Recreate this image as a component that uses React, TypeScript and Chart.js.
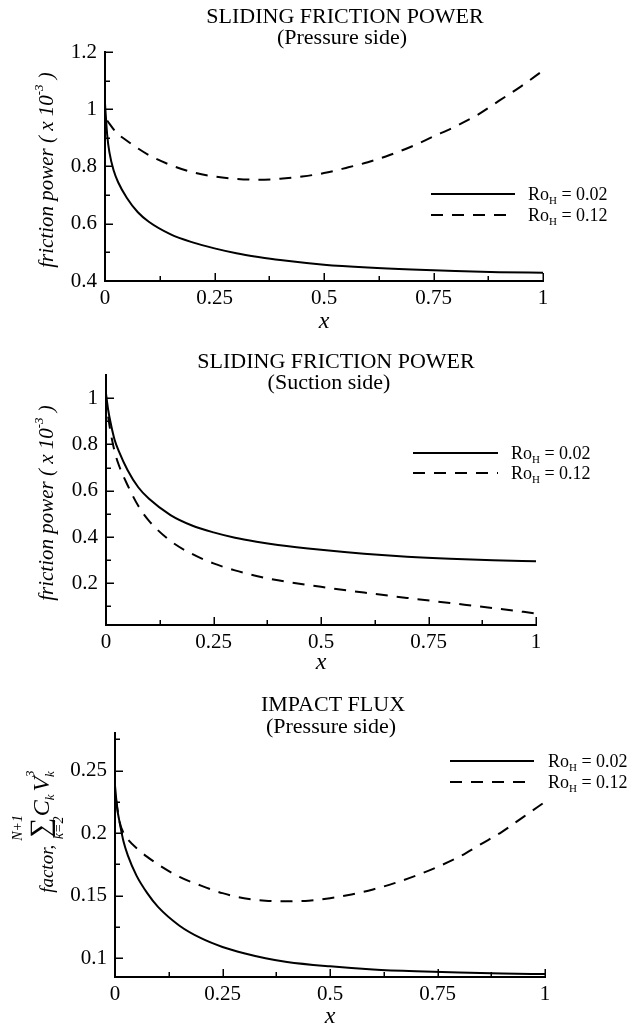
import React, { useEffect, useRef } from "react";
import { Chart, registerables } from "chart.js";
Chart.register(...registerables);

const SERIF = "'Liberation Serif', 'Times New Roman', serif";

// ---------- shared axis data ----------
const X_TICKS = [0, 0.25, 0.5, 0.75, 1];
const X_TICK_LABELS = ["0", "0.25", "0.5", "0.75", "1"];
const X_MINOR_TICKS = [0.125, 0.375, 0.625, 0.875];
const X_AXIS_TITLE = "x";
const SERIES_RO = ["0.02", "0.12"];
const SERIES_DASH = [[], [12, 9]];

// ---------- panel 1: sliding friction power, pressure side ----------
const P1_TITLE = "SLIDING FRICTION POWER";
const P1_SUBTITLE = "(Pressure side)";
const P1_Y_TICKS = [0.4, 0.6, 0.8, 1, 1.2];
const P1_Y_TICK_LABELS = ["0.4", "0.6", "0.8", "1", "1.2"];
const P1_Y_MINOR = [0.5, 0.7, 0.9, 1.1];
const P1_SOLID_X = [0, 0.005, 0.01, 0.02, 0.03, 0.05, 0.075, 0.1, 0.15, 0.2, 0.25, 0.3, 0.35, 0.4, 0.5, 0.6, 0.7, 0.8, 0.9, 1];
const P1_SOLID_Y = [1.02, 0.91, 0.85, 0.785, 0.745, 0.69, 0.64, 0.607, 0.563, 0.535, 0.514, 0.497, 0.484, 0.473, 0.457, 0.447, 0.44, 0.435, 0.431, 0.429];
const P1_DASHED_X = [0.005, 0.025, 0.05, 0.1, 0.15, 0.2, 0.25, 0.3, 0.35, 0.4, 0.45, 0.5, 0.55, 0.6, 0.65, 0.7, 0.75, 0.8, 0.85, 0.9, 0.95, 1];
const P1_DASHED_Y = [0.96, 0.92, 0.89, 0.84, 0.805, 0.78, 0.765, 0.757, 0.754, 0.757, 0.765, 0.777, 0.795, 0.815, 0.84, 0.87, 0.905, 0.94, 0.98, 1.03, 1.08, 1.135];

// ---------- panel 2: sliding friction power, suction side ----------
const P2_TITLE = "SLIDING FRICTION POWER";
const P2_SUBTITLE = "(Suction side)";
const P2_Y_TICKS = [0.2, 0.4, 0.6, 0.8, 1];
const P2_Y_TICK_LABELS = ["0.2", "0.4", "0.6", "0.8", "1"];
const P2_Y_MINOR = [0.1, 0.3, 0.5, 0.7, 0.9];
const P2_SOLID_X = [0, 0.005, 0.01, 0.02, 0.03, 0.05, 0.075, 0.1, 0.15, 0.2, 0.25, 0.3, 0.35, 0.4, 0.5, 0.6, 0.7, 0.8, 0.9, 1];
const P2_SOLID_Y = [1.02, 0.95, 0.9, 0.82, 0.77, 0.69, 0.615, 0.565, 0.495, 0.45, 0.42, 0.397, 0.38, 0.366, 0.345, 0.328, 0.315, 0.306, 0.3, 0.295];
const P2_DASHED_X = [0.005, 0.01, 0.02, 0.03, 0.05, 0.075, 0.1, 0.15, 0.2, 0.25, 0.3, 0.35, 0.4, 0.5, 0.6, 0.7, 0.8, 0.9, 1];
const P2_DASHED_Y = [0.92, 0.86, 0.77, 0.71, 0.625, 0.535, 0.47, 0.383, 0.327, 0.286, 0.256, 0.232, 0.213, 0.185, 0.16, 0.137, 0.115, 0.093, 0.07];

// ---------- panel 3: impact flux, pressure side ----------
const P3_TITLE = "IMPACT FLUX";
const P3_SUBTITLE = "(Pressure side)";
const P3_Y_TICKS = [0.1, 0.15, 0.2, 0.25];
const P3_Y_TICK_LABELS = ["0.1", "0.15", "0.2", "0.25"];
const P3_Y_MINOR = [0.125, 0.175, 0.225, 0.275];
const P3_SOLID_X = [0, 0.005, 0.01, 0.02, 0.03, 0.05, 0.075, 0.1, 0.15, 0.2, 0.25, 0.3, 0.35, 0.4, 0.5, 0.6, 0.7, 0.8, 0.9, 1];
const P3_SOLID_Y = [0.238, 0.22, 0.21, 0.193, 0.182, 0.166, 0.152, 0.141, 0.126, 0.116, 0.109, 0.104, 0.1, 0.097, 0.0935, 0.091, 0.0895, 0.0885, 0.0878, 0.0873];
const P3_DASHED_X = [0.003, 0.01, 0.02, 0.03, 0.05, 0.075, 0.1, 0.15, 0.2, 0.25, 0.3, 0.35, 0.4, 0.45, 0.5, 0.55, 0.6, 0.65, 0.7, 0.75, 0.8, 0.85, 0.9, 0.95, 1];
const P3_DASHED_Y = [0.226, 0.21, 0.2, 0.195, 0.188, 0.181, 0.175, 0.165, 0.158, 0.152, 0.148, 0.146, 0.1455, 0.146, 0.148, 0.151, 0.155, 0.16, 0.166, 0.173, 0.181, 0.191, 0.201, 0.213, 0.225];

// ---------- rich text helpers ----------
type Seg = { t: string; font: string; dy?: number; noAdvance?: boolean; over?: Seg; under?: Seg };

const it = (px: number) => `italic ${px}px ${SERIF}`;
const rm = (px: number) => `${px}px ${SERIF}`;

const FRICTION_LABEL: Seg[] = [
  { t: "friction power ( x 10", font: it(21) },
  { t: "-3", font: it(13), dy: -10 },
  { t: " )", font: it(21) },
];

const IMPACT_LABEL: Seg[] = [
  { t: "factor,", font: it(19) },
  { t: "  ", font: it(14) },
  { t: "\u2211", font: rm(28), dy: -4, over: { t: "N+1", font: it(14), dy: -31 }, under: { t: "k=2", font: it(14), dy: 10 } },
  { t: " ", font: it(6) },
  { t: "C", font: it(24), dy: -4 },
  { t: "k", font: it(13), dy: 1 },
  { t: " ", font: it(12) },
  { t: "V", font: it(24), dy: -4 },
  { t: "3", font: it(13), dy: -19, noAdvance: true },
  { t: "k", font: it(13), dy: 1 },
];

function segWidth(ctx: CanvasRenderingContext2D, s: Seg) {
  ctx.font = s.font;
  return ctx.measureText(s.t).width;
}

function richWidth(ctx: CanvasRenderingContext2D, segs: Seg[]) {
  let w = 0;
  for (const s of segs) if (!s.noAdvance) w += segWidth(ctx, s);
  return w;
}

function drawRich(ctx: CanvasRenderingContext2D, segs: Seg[], x: number, baseline: number) {
  let cx = x;
  ctx.textAlign = "left";
  ctx.textBaseline = "alphabetic";
  for (const s of segs) {
    const w = segWidth(ctx, s);
    ctx.font = s.font;
    ctx.fillText(s.t, cx, baseline + (s.dy || 0));
    for (const extra of [s.over, s.under]) {
      if (!extra) continue;
      const ew = segWidth(ctx, extra);
      ctx.font = extra.font;
      ctx.fillText(extra.t, cx + (w - ew) / 2, baseline + (extra.dy || 0));
    }
    if (!s.noAdvance) cx += w;
  }
}

// ---------- panel layout (pixels) ----------
type PanelCfg = {
  height: number;
  area: { left: number; right: number; top: number; bottom: number };
  yMin: number;
  yMax: number;
  yTicks: number[];
  yTickLabels: string[];
  yMinor: number[];
  title: string;
  subtitle: string;
  titlePos: { x: number; y: number; sx: number; sy: number };
  yLabel: Seg[];
  yLabelPos: { cy: number; baseX: number };
  xTitleY: number;
  legend: { x1: number; x2: number; tx: number; y: number; gap: number };
  series: { xs: number[]; ys: number[] }[];
};

const WIDTH = 632;
const Y_AXIS_W = 60;
const X_AXIS_H = 56;

const PANELS: PanelCfg[] = [
  {
    height: 340,
    area: { left: 105, right: 543, top: 52, bottom: 281 },
    yMin: 0.4, yMax: 1.2,
    yTicks: P1_Y_TICKS, yTickLabels: P1_Y_TICK_LABELS, yMinor: P1_Y_MINOR,
    title: P1_TITLE, subtitle: P1_SUBTITLE,
    titlePos: { x: 345, y: 17, sx: 342, sy: 38 },
    yLabel: FRICTION_LABEL,
    yLabelPos: { cy: 170, baseX: 53 },
    xTitleY: 322,
    legend: { x1: 431, x2: 515, tx: 528, y: 194, gap: 21 },
    series: [
      { xs: P1_SOLID_X, ys: P1_SOLID_Y },
      { xs: P1_DASHED_X, ys: P1_DASHED_Y },
    ],
  },
  {
    height: 340,
    area: { left: 106, right: 536, top: 35, bottom: 285 },
    yMin: 0.02, yMax: 1.1,
    yTicks: P2_Y_TICKS, yTickLabels: P2_Y_TICK_LABELS, yMinor: P2_Y_MINOR,
    title: P2_TITLE, subtitle: P2_SUBTITLE,
    titlePos: { x: 336, y: 22, sx: 329, sy: 43 },
    yLabel: FRICTION_LABEL,
    yLabelPos: { cy: 163, baseX: 53 },
    xTitleY: 323,
    legend: { x1: 413, x2: 498, tx: 511, y: 113, gap: 20 },
    series: [
      { xs: P2_SOLID_X, ys: P2_SOLID_Y },
      { xs: P2_DASHED_X, ys: P2_DASHED_Y },
    ],
  },
  {
    height: 346,
    area: { left: 115, right: 545, top: 53, bottom: 297 },
    yMin: 0.085, yMax: 0.28,
    yTicks: P3_Y_TICKS, yTickLabels: P3_Y_TICK_LABELS, yMinor: P3_Y_MINOR,
    title: P3_TITLE, subtitle: P3_SUBTITLE,
    titlePos: { x: 333, y: 25, sx: 331, sy: 47 },
    yLabel: IMPACT_LABEL,
    yLabelPos: { cy: 152, baseX: 53 },
    xTitleY: 337,
    legend: { x1: 450, x2: 534, tx: 548, y: 81, gap: 21 },
    series: [
      { xs: P3_SOLID_X, ys: P3_SOLID_Y },
      { xs: P3_DASHED_X, ys: P3_DASHED_Y },
    ],
  },
];

function PanelChart({ cfg }: { cfg: PanelCfg }) {
  const ref = useRef<HTMLCanvasElement | null>(null);

  useEffect(() => {
    const canvas = ref.current;
    if (!canvas) return;
    const a = cfg.area;

    const decor = {
      id: "decor",
      afterDraw(chart: any) {
        const ctx: CanvasRenderingContext2D = chart.ctx;
        const xs = chart.scales.x;
        const ys = chart.scales.y;
        const ca = chart.chartArea;
        ctx.save();
        // inward ticks
        ctx.strokeStyle = "#000";
        ctx.lineWidth = 1.5;
        ctx.beginPath();
        for (const v of X_TICKS) {
          const px = Math.round(xs.getPixelForValue(v)) + 0.25;
          ctx.moveTo(px, ca.bottom);
          ctx.lineTo(px, ca.bottom - 8);
        }
        for (const v of X_MINOR_TICKS) {
          const px = Math.round(xs.getPixelForValue(v)) + 0.25;
          ctx.moveTo(px, ca.bottom);
          ctx.lineTo(px, ca.bottom - 5);
        }
        for (const v of cfg.yTicks) {
          const py = Math.round(ys.getPixelForValue(v)) + 0.25;
          ctx.moveTo(ca.left, py);
          ctx.lineTo(ca.left + 8, py);
        }
        for (const v of cfg.yMinor) {
          const py = Math.round(ys.getPixelForValue(v)) + 0.25;
          ctx.moveTo(ca.left, py);
          ctx.lineTo(ca.left + 5, py);
        }
        ctx.stroke();

        // titles
        ctx.fillStyle = "#000";
        ctx.textAlign = "center";
        ctx.textBaseline = "middle";
        ctx.font = rm(22);
        ctx.fillText(cfg.title, cfg.titlePos.x, cfg.titlePos.y);
        ctx.fillText(cfg.subtitle, cfg.titlePos.sx, cfg.titlePos.sy);

        // rotated y label
        ctx.save();
        ctx.translate(cfg.yLabelPos.baseX, cfg.yLabelPos.cy);
        ctx.rotate(-Math.PI / 2);
        const w = richWidth(ctx, cfg.yLabel);
        drawRich(ctx, cfg.yLabel, -w / 2, 0);
        ctx.restore();

        // legend from datasets
        const L = cfg.legend;
        chart.data.datasets.forEach((ds: any, i: number) => {
          const y = L.y + i * L.gap;
          ctx.save();
          ctx.strokeStyle = ds.borderColor;
          ctx.lineWidth = ds.borderWidth;
          ctx.setLineDash(ds.borderDash || []);
          ctx.beginPath();
          ctx.moveTo(L.x1, y);
          ctx.lineTo(L.x2, y);
          ctx.stroke();
          ctx.restore();
          drawRich(
            ctx,
            [
              { t: "Ro", font: rm(18) },
              { t: "H", font: rm(11), dy: 4 },
              { t: " = " + SERIES_RO[i], font: rm(18) },
            ],
            L.tx,
            y + 6
          );
        });
        ctx.restore();
      },
    };

    const chart = new Chart(canvas, {
      type: "line",
      data: {
        datasets: cfg.series.map((s, i) => ({
          label: "Ro_H = " + SERIES_RO[i],
          data: s.xs.map((x, j) => ({ x, y: s.ys[j] })),
          borderColor: "#000",
          borderWidth: 2,
          borderDash: SERIES_DASH[i],
          pointRadius: 0,
          fill: false,
          cubicInterpolationMode: "monotone",
        })),
      },
      options: {
        animation: false,
        responsive: false,
        maintainAspectRatio: false,
        events: [],
        layout: {
          padding: {
            left: a.left - Y_AXIS_W,
            right: WIDTH - a.right,
            top: a.top,
            bottom: cfg.height - a.bottom - X_AXIS_H,
          },
        },
        plugins: {
          legend: { display: false },
          title: { display: false },
          tooltip: { enabled: false },
        },
        scales: {
          x: {
            type: "linear",
            min: 0,
            max: 1,
            afterFit: (s: any) => {
              s.height = X_AXIS_H;
            },
            afterBuildTicks: (s: any) => {
              s.ticks = X_TICKS.map((v) => ({ value: v }));
            },
            grid: { display: false, drawTicks: false },
            border: { display: true, color: "#000", width: 2 },
            ticks: {
              autoSkip: false,
              maxRotation: 0,
              padding: 5,
              color: "#000",
              font: { family: SERIF, size: 21 },
              callback: (_v: any, i: number) => X_TICK_LABELS[i],
            },
            title: {
              display: true,
              text: X_AXIS_TITLE,
              color: "#000",
              font: { family: SERIF, size: 24, style: "italic", lineHeight: 1 },
              padding: { top: 0, bottom: Math.max(0, a.bottom + X_AXIS_H - cfg.xTitleY - 12) },
            },
          },
          y: {
            type: "linear",
            min: cfg.yMin,
            max: cfg.yMax,
            afterFit: (s: any) => {
              s.width = Y_AXIS_W;
            },
            afterBuildTicks: (s: any) => {
              s.ticks = cfg.yTicks.map((v) => ({ value: v }));
            },
            grid: { display: false, drawTicks: false },
            border: { display: true, color: "#000", width: 2 },
            ticks: {
              autoSkip: false,
              padding: 8,
              color: "#000",
              font: { family: SERIF, size: 21 },
              callback: (_v: any, i: number) => cfg.yTickLabels[i],
            },
          },
        },
      },
      plugins: [decor],
    } as any);

    return () => chart.destroy();
  }, [cfg]);

  return (
    <canvas
      ref={ref}
      width={WIDTH}
      height={cfg.height}
      style={{ display: "block", width: WIDTH, height: cfg.height }}
    />
  );
}

export default function App() {
  return (
    <div style={{ position: "absolute", left: 0, top: 0, width: WIDTH, height: 1026, background: "#fff" }}>
      {PANELS.map((p, i) => (
        <PanelChart key={i} cfg={p} />
      ))}
    </div>
  );
}
